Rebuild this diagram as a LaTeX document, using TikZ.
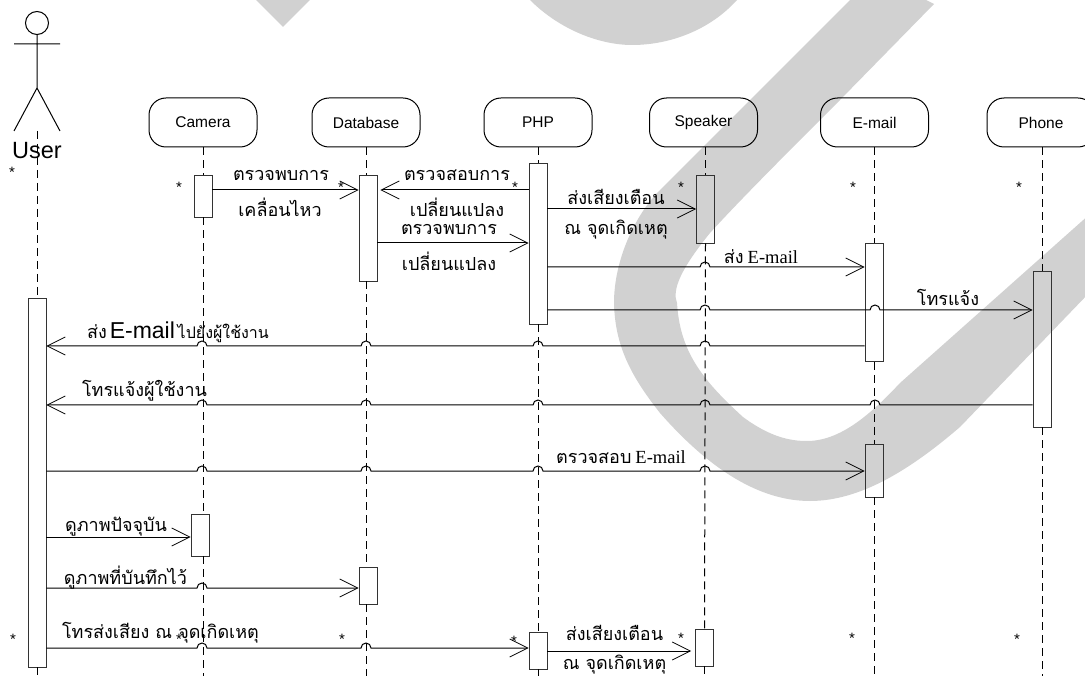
\documentclass[tikz,border=0pt]{standalone}
\usepackage{fontspec}
\setmainfont{Liberation Sans}
\newfontfamily\thaifont[Script=Thai]{Loma}
\newfontfamily\serifont{Liberation Serif}
\newcommand\hop[2]{-- (#1-5,#2) arc[start angle=180,end angle=0,radius=5pt]}
\newcommand\pohb[2]{-- (#1+5,#2) arc[start angle=0,end angle=180,radius=5pt]}
\newcommand\thl[1]{{\thaifont\fontsize{18}{18}\selectfont #1}}
\newcommand\thm[1]{{\thaifont\fontsize{16}{16}\selectfont #1}}
\newcommand\serl[1]{{\hspace{4pt}\serifont\fontsize{18.5}{18.5}\selectfont #1}}
\def\xcam{202}\def\xdb{366}\def\xphp{538}\def\xsp{705}\def\xml{875}\def\xph{1043}
\tikzset{
  head/.style={draw=black,rounded corners=17pt,line width=1pt,minimum width=108pt,minimum height=49pt,inner sep=0pt,font=\fontsize{15.5}{15.5}\selectfont},
  actbox/.style={draw=black!80,line width=.9pt,minimum width=18pt,inner sep=0pt,rectangle},
  life/.style={draw=black,line width=1pt,dash pattern=on 8pt off 5pt},
  msg/.style={draw=black,line width=1pt,-{Straight Barb[length=18pt,width=18pt,line width=.8pt]}},
  lbl/.style={inner sep=0pt,black},
  star/.style={inner sep=0pt,font=\fontsize{15}{15}\selectfont},
  band/.style={fill=black!18,draw=none}
}
\usetikzlibrary{arrows.meta}
\begin{document}
\begin{tikzpicture}[x=1pt,y=-1pt]
\useasboundingbox (0,0) rectangle (1085,676);
\begin{scope}
\clip (0,0) rectangle (1085,676);
\fill[band] (256,0) -- (283,27) -- (310,0) -- cycle;
\fill[band] (530,0) .. controls (560,30) and (600,45) .. (632,45) .. controls (670,45) and (710,30) .. (737,0) -- cycle;
\fill[band] (850,0) -- (926,0) -- (934,4) -- (840,100) .. controls (790,150) and (740,200) .. (710,233)
  .. controls (680,270) and (672,290) .. (677,303) .. controls (680,350) and (700,378) .. (743,417)
  .. controls (770,437) and (790,441) .. (807,441) .. controls (840,441) and (870,415) .. (900,383)
  -- (1090,214) -- (1090,292) -- (960,427) .. controls (910,470) and (860,501) .. (810,501)
  .. controls (760,501) and (710,470) .. (660,413) .. controls (630,375) and (615,345) .. (614,303)
  .. controls (614,260) and (635,215) .. (660,190) -- cycle;
\end{scope}

% heads
\node[head] (camera) at (203,122.5) {Camera};
\node[head] (database) at (366,122.5) {Database};
\node[head] (php) at (538,122.5) {PHP};
\node[head] (speaker) at (703.5,122.5) {Speaker};
\node[head] (email) at (874.5,122.5) {E-mail};
\node[head] (phone) at (1041,122.5) {Phone};

% actor
\node[draw=black,circle,line width=1pt,minimum size=23pt,inner sep=0pt] (uhead) at (37,23) {};
\coordinate (uhip) at (37,88);
\coordinate (uarml) at (14,44);
\coordinate (uarmr) at (60,44);
\coordinate (ufl) at (14,131);
\coordinate (ufr) at (60,131);
\coordinate (uneck) at (37,131);
\draw[line width=1pt] (uhead.south) -- (uhip) -- (ufl) (uhip) -- (ufr) (uarml) -- (uarmr);
\node[lbl,font=\fontsize{23.5}{23.5}\selectfont] (ulabel) at (37,151) {User};

% activations
\node[actbox,minimum height=369pt] (u1) at (37,482.5) {};
\node[actbox,minimum height=42pt] (cam1) at (203,196) {};
\node[actbox,minimum height=106pt] (db1) at (368,228) {};
\node[actbox,minimum height=161pt] (php1) at (538,243.5) {};
\node[actbox,minimum height=68pt] (sp1) at (705.5,209) {};
\node[actbox,minimum height=118pt] (ml1) at (874,302.5) {};
\node[actbox,minimum height=156pt] (ph1) at (1042,349) {};
\node[actbox,minimum height=53pt] (ml2) at (874,470.5) {};
\node[actbox,minimum height=42pt] (cam2) at (200,535) {};
\node[actbox,minimum height=37pt] (db2) at (368,585.5) {};
\node[actbox,minimum height=37pt] (php2) at (538,650.5) {};
\node[actbox,minimum height=37pt] (sp2) at (704.5,647.5) {};

% lifelines
\coordinate (bot) at (0,676);
\draw[life] (uneck) -- (uneck |- u1.north);
\draw[life] (uneck |- u1.south) -- (uneck |- bot);
\draw[life] (camera.south) -- (camera.south |- cam1.north);
\draw[life] (camera.south |- cam1.south) -- (camera.south |- cam2.north);
\draw[life] (camera.south |- cam2.south) -- (camera.south |- bot);
\draw[life] (database.south) -- (database.south |- db1.north);
\draw[life] (database.south |- db1.south) -- (database.south |- db2.north);
\draw[life] (database.south |- db2.south) -- (database.south |- bot);
\draw[life] (php.south) -- (php.south |- php1.north);
\draw[life] (php.south |- php1.south) -- (php.south |- php2.north);
\draw[life] (php.south |- php2.south) -- (php.south |- bot);
\draw[life] (speaker.south -| sp1) -- (sp1.north);
\draw[life] (sp1.south) -- (sp2.north);
\draw[life] (sp2.south) -- (sp2 |- bot);
\draw[life] (email.south -| ml1) -- (ml1.north);
\draw[life] (ml1.south) -- (ml2.north);
\draw[life] (ml2.south) -- (ml2 |- bot);
\draw[life] (phone.south -| ph1) -- (ph1.north);
\draw[life] (ph1.south) -- (ph1 |- bot);

% messages
\draw[msg] (cam1.east |- 0,190) -- (db1.west |- 0,190);
\draw[msg,shorten >=3pt] (php1.west |- 0,190) -- (db1.east |- 0,190);
\draw[msg] (db1.east |- 0,243) -- (php1.west |- 0,243);
\draw[msg] (php1.east |- 0,209) -- (sp1.west |- 0,209);
\draw[msg] (php1.east |- 0,267) \hop{\xsp}{267} -- (ml1.west |- 0,267);
\draw[msg] (php1.east |- 0,310) \hop{\xsp}{310} \hop{\xml}{310} -- (ph1.west |- 0,310);
\draw[msg] (ml1.west |- 0,346) \pohb{\xsp}{346} \pohb{\xphp}{346} \pohb{\xdb}{346} \pohb{\xcam}{346} -- (u1.east |- 0,346);
\draw[msg] (ph1.west |- 0,405) \pohb{\xml}{405} \pohb{\xsp}{405} \pohb{\xphp}{405} \pohb{\xdb}{405} \pohb{\xcam}{405} -- (u1.east |- 0,405);
\draw[msg] (u1.east |- 0,471) \hop{\xcam}{471} \hop{\xdb}{471} \hop{\xphp}{471} \hop{\xsp}{471} -- (ml2.west |- 0,471);
\draw[msg] (u1.east |- 0,537) -- (cam2.west |- 0,537);
\draw[msg] (u1.east |- 0,588) \hop{\xcam}{588} -- (db2.west |- 0,588);
\draw[msg] (u1.east |- 0,648) \hop{\xcam}{648} \hop{\xdb}{648} -- (php2.west |- 0,648);
\draw[msg,shorten >=4pt] (php2.east |- 0,651) -- (sp2.west |- 0,651);

% labels
\node[lbl] (t1) at (281,175) {\thl{ตรวจพบการ}};
\node[lbl] (t2) at (280,207) {\thl{เคลื่อนไหว}};
\node[lbl] (t3) at (457,175) {\thl{ตรวจสอบการ}};
\node[lbl] (t4) at (457,207) {\thl{เปลี่ยนแปลง}};
\node[lbl] (t5) at (449,229) {\thl{ตรวจพบการ}};
\node[lbl] (t6) at (449,261) {\thl{เปลี่ยนแปลง}};
\node[lbl] (t7) at (616,197) {\thl{ส่งเสียงเตือน}};
\node[lbl] (t8) at (616,230) {\thl{ณ จุดเกิดเหตุ}};
\node[lbl] (t9) at (761,257) {\thl{ส่ง}\serl{E-mail}};
\node[lbl] (t10) at (948,297) {\thl{โทรแจ้ง}};
\node[lbl,anchor=west] (t11) at (87,332) {\thl{ส่ง} {\fontsize{23}{23}\selectfont E-mail} \thm{ไปยังผู้ใช้งาน}};
\node[lbl] (t12) at (144.5,391) {\thl{โทรแจ้งผู้ใช้งาน}};
\node[lbl] (t13) at (621,457) {\thl{ตรวจสอบ}\serl{E-mail}};
\node[lbl] (t14) at (116,527) {\thl{ดูภาพปัจจุบัน}};
\node[lbl] (t15) at (125.5,578) {\thl{ดูภาพที่บันทึกไว้}};
\node[lbl] (t16) at (160.5,633) {\thl{โทรส่งเสียง ณ จุดเกิดเหตุ}};
\node[lbl] (t17) at (614.5,633) {\thl{ส่งเสียงเตือน}};
\node[lbl] (t18) at (614.5,664.5) {\thl{ณ จุดเกิดเหตุ}};

% stars
\foreach \n/\x/\y in {a/12/172,b/179/187,c/341/187,d/515/187,e/681/187,f/853/187,g/1019/187,h/13/639,i/179/639,j/342/639,k/514/641,l/681/638,m/852/638,n/1017/639}
  \node[star] (s\n) at (\x,\y) {*};
\end{tikzpicture}
\end{document}
